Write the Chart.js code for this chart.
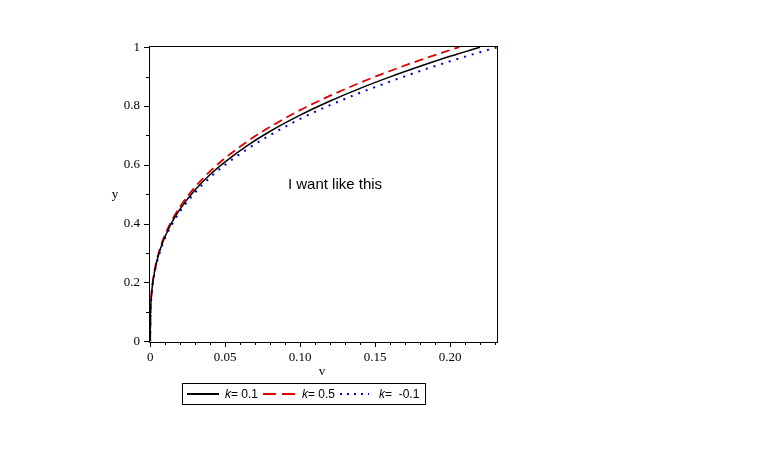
<!DOCTYPE html>
<html>
<head>
<meta charset="utf-8">
<script src="https://cdn.jsdelivr.net/npm/chart.js@4/dist/chart.umd.min.js"></script>
<style>
  html, body { margin: 0; padding: 0; background: #fff; }
  #wrap { width: 759px; height: 468px; }
</style>
</head>
<body>
<div id="wrap"><canvas id="c" width="759" height="468"></canvas></div>
<script>
// valores
const vBlack = [0, 0.0002, 0.0005, 0.001, 0.002, 0.004, 0.007, 0.01, 0.015, 0.02, 0.03, 0.04, 0.05, 0.065, 0.08, 0.1, 0.12, 0.14, 0.16, 0.18, 0.2, 0.22];
const yBlack = [0, 0.097, 0.131, 0.166, 0.209, 0.263, 0.317, 0.357, 0.409, 0.450, 0.515, 0.567, 0.610, 0.666, 0.714, 0.769, 0.817, 0.860, 0.899, 0.935, 0.969, 1.0];

const vRed = [0, 0.0002, 0.0005, 0.001, 0.002, 0.004, 0.007, 0.01, 0.015, 0.02, 0.03, 0.04, 0.05, 0.065, 0.08, 0.1, 0.12, 0.14, 0.16, 0.18, 0.2, 0.206];
const yRed = [0, 0.099, 0.134, 0.169, 0.213, 0.268, 0.323, 0.364, 0.416, 0.458, 0.525, 0.578, 0.623, 0.680, 0.729, 0.786, 0.835, 0.879, 0.919, 0.956, 0.990, 1.0];

const vBlue = [0, 0.0002, 0.0005, 0.001, 0.002, 0.004, 0.007, 0.01, 0.015, 0.02, 0.03, 0.04, 0.05, 0.065, 0.08, 0.1, 0.12, 0.14, 0.16, 0.18, 0.2, 0.22, 0.231];
const yBlue = [0, 0.095, 0.129, 0.163, 0.205, 0.258, 0.311, 0.351, 0.401, 0.442, 0.506, 0.557, 0.600, 0.654, 0.701, 0.756, 0.803, 0.845, 0.883, 0.919, 0.952, 0.983, 0.999];

const seriesLabels = ['0.1', '0.5', ' -0.1'];

const xMajor = [0, 0.05, 0.10, 0.15, 0.20];
const xLabels = ['0', '0.05', '0.10', '0.15', '0.20'];
const xMinor = [0.01, 0.02, 0.03, 0.04, 0.06, 0.07, 0.08, 0.09, 0.11, 0.12, 0.13, 0.14, 0.16, 0.17, 0.18, 0.19, 0.21, 0.22, 0.23];
const yMajor = [0, 0.2, 0.4, 0.6, 0.8, 1];
const yLabels = ['0', '0.2', '0.4', '0.6', '0.8', '1'];
const yMinor = [0.1, 0.3, 0.5, 0.7, 0.9];

function pts(xs, ys) {
  return xs.map((x, i) => ({ x: x, y: ys[i] }));
}

// plugin para el marco, las marcas, los titulos y la leyenda
const extras = {
  id: 'extras',
  afterDraw(chart) {
    const ctx = chart.ctx;
    const a = chart.chartArea;
    const xs = chart.scales.x;
    const ys = chart.scales.y;
    ctx.save();
    ctx.strokeStyle = '#000';
    ctx.lineWidth = 1;
    ctx.strokeRect(Math.round(a.left) + 0.5, Math.round(a.top) + 0.5, Math.round(a.right - a.left), Math.round(a.bottom - a.top));

    ctx.beginPath();
    xMajor.forEach(v => {
      const px = Math.round(xs.getPixelForValue(v)) + 0.5;
      ctx.moveTo(px, a.bottom); ctx.lineTo(px, a.bottom + 5);
    });
    xMinor.forEach(v => {
      const px = Math.round(xs.getPixelForValue(v)) + 0.5;
      ctx.moveTo(px, a.bottom); ctx.lineTo(px, a.bottom + 3);
    });
    yMajor.forEach(v => {
      const py = Math.round(ys.getPixelForValue(v)) + 0.5;
      ctx.moveTo(a.left, py); ctx.lineTo(a.left - 5, py);
    });
    yMinor.forEach(v => {
      const py = Math.round(ys.getPixelForValue(v)) + 0.5;
      ctx.moveTo(a.left, py); ctx.lineTo(a.left - 3, py);
    });
    ctx.stroke();

    // titulos de ejes
    ctx.fillStyle = '#000';
    ctx.font = '13px "Liberation Serif"';
    ctx.textAlign = 'center';
    ctx.textBaseline = 'middle';
    ctx.fillText('v', 322, 372);
    ctx.fillText('y', 115, 195);

    // texto
    ctx.font = '15px "Liberation Sans"';
    ctx.fillText('I want like this', 335, 185);

    // leyenda
    ctx.lineWidth = 1;
    ctx.strokeRect(182.5, 383.5, 243, 21);
    const ly = 394;
    const items = [
      { x0: 187, x1: 219, color: '#000', dash: [], width: 2, tx: 225 },
      { x0: 263, x1: 295, color: '#e00000', dash: [13, 6], width: 2, tx: 302 },
      { x0: 340, x1: 369, color: '#0000c8', dash: [2, 5], width: 2, tx: 379 }
    ];
    items.forEach((it, i) => {
      ctx.beginPath();
      ctx.strokeStyle = it.color;
      ctx.lineWidth = it.width;
      ctx.setLineDash(it.dash);
      ctx.moveTo(it.x0, ly); ctx.lineTo(it.x1, ly);
      ctx.stroke();
      ctx.setLineDash([]);
      ctx.textAlign = 'left';
      ctx.fillStyle = '#000';
      ctx.font = 'italic 12px "Liberation Sans"';
      ctx.fillText('k', it.tx, ly + 1);
      const kw = ctx.measureText('k').width;
      ctx.font = '12px "Liberation Sans"';
      ctx.fillText('= ' + seriesLabels[i], it.tx + kw, ly + 1);
    });
    ctx.restore();
  }
};

new Chart(document.getElementById('c'), {
  type: 'line',
  data: {
    datasets: [
      {
        label: 'k = 0.1',
        data: pts(vBlack, yBlack),
        borderColor: '#000',
        borderWidth: 1.5,
        pointRadius: 0,
        cubicInterpolationMode: 'monotone'
      },
      {
        label: 'k = 0.5',
        data: pts(vRed, yRed),
        borderColor: '#e00000',
        borderWidth: 1.8,
        borderDash: [9, 5],
        pointRadius: 0,
        cubicInterpolationMode: 'monotone'
      },
      {
        label: 'k = -0.1',
        data: pts(vBlue, yBlue),
        borderColor: '#0000c8',
        borderWidth: 2,
        borderDash: [2, 6],
        pointRadius: 0,
        cubicInterpolationMode: 'monotone'
      }
    ]
  },
  options: {
    responsive: false,
    animation: false,
    layout: { padding: { left: 0, top: 46, right: 262, bottom: 0 } },
    plugins: { legend: { display: false }, tooltip: { enabled: false } },
    scales: {
      x: {
        type: 'linear',
        min: -0.0008,
        max: 0.2313,
        afterFit: s => { s.height = 126; },
        afterBuildTicks: s => { s.ticks = xMajor.map(v => ({ value: v })); },
        grid: { display: false, drawTicks: false },
        border: { display: false },
        ticks: {
          padding: 8,
          maxRotation: 0,
          autoSkip: false,
          color: '#000',
          font: { family: 'Liberation Serif', size: 13 },
          callback: (v, i) => xLabels[i]
        }
      },
      y: {
        type: 'linear',
        min: -0.003,
        max: 1.004,
        afterFit: s => { s.width = 149; },
        afterBuildTicks: s => { s.ticks = yMajor.map(v => ({ value: v })); },
        grid: { display: false, drawTicks: false },
        border: { display: false },
        ticks: {
          padding: 9,
          autoSkip: false,
          color: '#000',
          font: { family: 'Liberation Serif', size: 13 },
          callback: (v, i) => yLabels[i]
        }
      }
    }
  },
  plugins: [extras]
});
</script>
</body>
</html>
